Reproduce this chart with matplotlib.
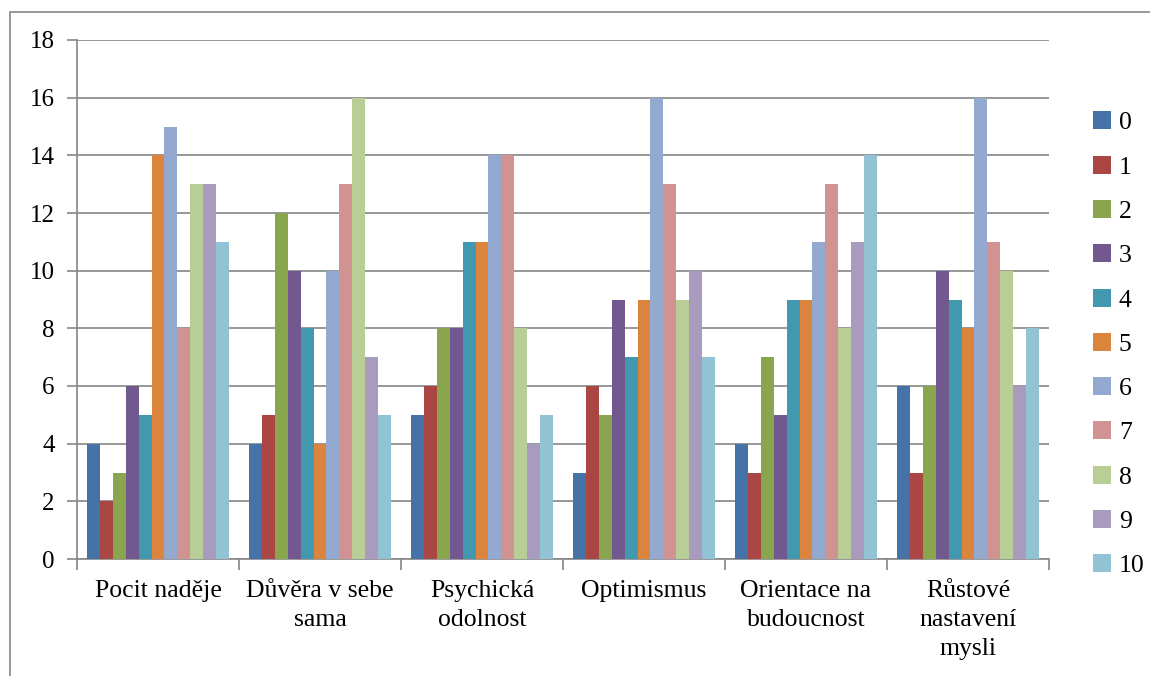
import numpy as np
import matplotlib.pyplot as plt
from matplotlib.patches import Rectangle

categories = ['Pocit naděje', 'Důvěra v sebe\nsama', 'Psychická\nodolnost',
              'Optimismus', 'Orientace na\nbudoucnost', 'Růstové\nnastavení\nmysli']
series_names = ['0', '1', '2', '3', '4', '5', '6', '7', '8', '9', '10']

s0 = [4, 4, 5, 3, 4, 6]
s1 = [2, 5, 6, 6, 3, 3]
s2 = [3, 12, 8, 5, 7, 6]
s3 = [6, 10, 8, 9, 5, 10]
s4 = [5, 8, 11, 7, 9, 9]
s5 = [14, 4, 11, 9, 9, 8]
s6 = [15, 10, 14, 16, 11, 16]
s7 = [8, 13, 14, 13, 13, 11]
s8 = [13, 16, 8, 9, 8, 10]
s9 = [13, 7, 4, 10, 11, 6]
s10 = [11, 5, 5, 7, 14, 8]
series = [s0, s1, s2, s3, s4, s5, s6, s7, s8, s9, s10]

colors = ['#4572A7', '#AA4643', '#89A54E', '#71588F', '#4198AF', '#DB843D',
          '#93A9CF', '#D19392', '#B9CD96', '#A99BBD', '#92C3D5']

plt.rcParams['font.family'] = ['Liberation Serif', 'DejaVu Serif']

fig = plt.figure(figsize=(11.5, 6.76), dpi=100)
ax = fig.add_axes([77/1150, 1 - 559/676, (1049 - 77)/1150, (559 - 40)/676])

x = np.arange(len(categories))
w = 0.0797
n = len(series)
for i, vals in enumerate(series):
    ax.bar(x + (i - (n - 1) / 2) * w, vals, w, color=colors[i], label=series_names[i],
           zorder=3)

ax.set_xlim(-0.5, len(categories) - 0.5)
ax.set_ylim(0, 18)
ax.set_yticks(range(0, 19, 2))
ax.yaxis.grid(True, color='#868686', linewidth=1.2, zorder=0)
ax.tick_params(axis='y', labelsize=18, length=7, width=1.2, color='#868686', pad=9)

# category boundaries as ticks
ax.set_xticks(np.arange(-0.5, len(categories), 1))
ax.set_xticklabels([])
ax.set_xticks(x, minor=True)
ax.set_xticklabels(categories, minor=True, fontsize=18.5, linespacing=1.42, va='top')
ax.tick_params(axis='x', which='minor', length=0, pad=15)
ax.tick_params(axis='x', which='major', length=8, width=1.2, color='#868686')

for side in ['top', 'right']:
    ax.spines[side].set_visible(False)
for side in ['left', 'bottom']:
    ax.spines[side].set_color('#868686')
    ax.spines[side].set_linewidth(1.2)

ax.legend(loc='upper left', bbox_to_anchor=(1083/1150, 1 - 101/676),
          bbox_transform=fig.transFigure, frameon=False, fontsize=18.5,
          handlelength=0.7, handleheight=0.7, handletextpad=0.3,
          labelspacing=0.83, borderaxespad=0)

fig.patches.append(Rectangle((10/1150, -0.1), 1.2, 1.1 - 12/676,
                             transform=fig.transFigure, fill=False,
                             edgecolor='#868686', linewidth=1.2))

fig.savefig('out.png', dpi=100)
